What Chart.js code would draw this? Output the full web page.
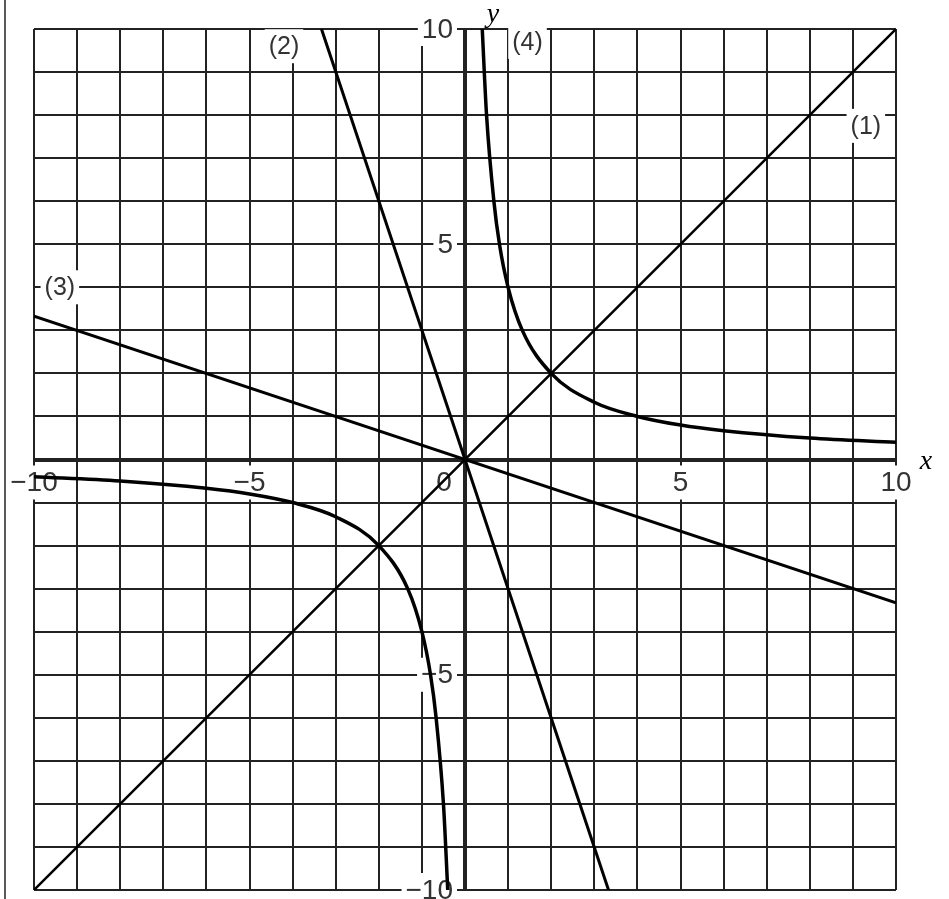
<!DOCTYPE html>
<html>
<head>
<meta charset="utf-8">
<title>Graphs of y = x, y = -3x, y = -x/3, y = 4/x</title>
<script src="https://cdn.jsdelivr.net/npm/chart.js@4.4.1/dist/chart.umd.min.js"></script>
<style>
    html, body { margin: 0; padding: 0; background: #fff; }
    #wrap { width: 949px; height: 899px; position: relative; }
</style>
</head>
<body>
<div id="wrap"><canvas id="graphchart" width="949" height="899"></canvas></div>
<script>
"use strict";

/* values */
var line1X = [-10, 10];
var line1Y = [-10, 10];
var line2X = [-3.33, 3.33];
var line2Y = [10, -10];
var line3X = [-10, 10];
var line3Y = [3.33, -3.33];
var curve4PosX = [0.4, 0.5, 0.67, 0.8, 1, 1.33, 2, 3, 4, 5, 6, 8, 10];
var curve4PosY = [10, 8, 6, 5, 4, 3, 2, 1.33, 1, 0.8, 0.67, 0.5, 0.4];
var curve4NegX = [-10, -8, -6, -5, -4, -3, -2, -1.33, -1, -0.8, -0.67, -0.5, -0.4];
var curve4NegY = [-0.4, -0.5, -0.67, -0.8, -1, -1.33, -2, -3, -4, -5, -6, -8, -10];

var xTickValues = [-10, -5, 0, 5, 10];
var xTickLabels = ['\u221210', '\u22125', '0', '5', '10'];
var yTickValues = [10, 5, -5, -10];
var yTickLabels = ['10', '5', '\u22125', '\u221210'];

var curveNames = ['(1)', '(2)', '(3)', '(4)'];
var curveNameX = [9.3, -4.2, -9.4, 1.45];
var curveNameY = [7.75, 9.6, 4, 9.7];

function toPoints(xs, ys) {
    return xs.map(function (x, i) { return { x: x, y: ys[i] }; });
}

function lineSet(xs, ys, width, smooth) {
    return {
        data: toPoints(xs, ys),
        showLine: true,
        pointRadius: 0,
        borderColor: '#000',
        borderWidth: width,
        fill: false,
        cubicInterpolationMode: smooth ? 'monotone' : 'default',
        tension: 0
    };
}

function whiteLabel(ctx, text, x, y, align) {
    var w = ctx.measureText(text).width;
    var left = align === 'right' ? x - w : x - w / 2;
    ctx.fillStyle = '#fff';
    ctx.fillRect(left - 4, y - 17, w + 8, 34);
    ctx.fillStyle = '#333';
    ctx.textAlign = align;
    ctx.fillText(text, x, y + 1);
}

/* tick labels and curve names sit on white boxes under the curves */
var labelPlugin = {
    id: 'labelPlugin',
    beforeDatasetsDraw: function (chart) {
        var ctx = chart.ctx;
        var sx = chart.scales.x;
        var sy = chart.scales.y;
        var x0 = sx.getPixelForValue(0);
        var y0 = sy.getPixelForValue(0);
        ctx.save();
        ctx.textBaseline = 'middle';
        ctx.font = '28px "Liberation Sans", Arial, sans-serif';
        xTickValues.forEach(function (v, i) {
            var px = sx.getPixelForValue(v);
            if (v === 0) px -= 21;
            whiteLabel(ctx, xTickLabels[i], px, y0 + 23, 'center');
        });
        yTickValues.forEach(function (v, i) {
            whiteLabel(ctx, yTickLabels[i], x0 - 12, sy.getPixelForValue(v), 'right');
        });
        ctx.font = '25px "Liberation Sans", Arial, sans-serif';
        curveNames.forEach(function (t, i) {
            whiteLabel(ctx, t, sx.getPixelForValue(curveNameX[i]), sy.getPixelForValue(curveNameY[i]), 'center');
        });
        ctx.restore();
    },
    afterDraw: function (chart) {
        var ctx = chart.ctx;
        var area = chart.chartArea;
        var x0 = chart.scales.x.getPixelForValue(0);
        var y0 = chart.scales.y.getPixelForValue(0);
        ctx.save();
        ctx.fillStyle = '#000';
        ctx.font = 'italic 28px "Liberation Serif", "DejaVu Serif", serif';
        ctx.textAlign = 'center';
        ctx.textBaseline = 'middle';
        ctx.fillText('y', x0 + 28, area.top - 14);
        ctx.fillText('x', area.right + 30, y0 + 2);
        /* page border on the left */
        ctx.strokeStyle = '#222';
        ctx.lineWidth = 1.5;
        ctx.beginPath();
        ctx.moveTo(5, 0);
        ctx.lineTo(5, chart.height);
        ctx.stroke();
        ctx.restore();
    }
};

document.addEventListener("DOMContentLoaded", function () {
    var graph = document.getElementById('graphchart').getContext('2d');

    var axisGrid = {
        color: '#222',
        lineWidth: function (c) { return c.tick && c.tick.value === 0 ? 4 : 2; },
        drawTicks: false
    };

    var graphConfig = {
        type: 'scatter',
        data: {
            datasets: [
                lineSet(line1X, line1Y, 2.5, false),
                lineSet(line2X, line2Y, 3, false),
                lineSet(line3X, line3Y, 3, false),
                lineSet(curve4PosX, curve4PosY, 3.5, true),
                lineSet(curve4NegX, curve4NegY, 3.5, true)
            ]
        },
        options: {
            animation: false,
            responsive: false,
            maintainAspectRatio: false,
            layout: {
                padding: { left: 34, right: 53, top: 29, bottom: 9 }
            },
            plugins: {
                legend: { display: false },
                tooltip: { enabled: false }
            },
            scales: {
                x: {
                    type: 'linear',
                    min: -10,
                    max: 10,
                    ticks: { stepSize: 1, display: false },
                    grid: axisGrid,
                    border: { display: false }
                },
                y: {
                    type: 'linear',
                    min: -10,
                    max: 10,
                    ticks: { stepSize: 1, display: false },
                    grid: axisGrid,
                    border: { display: false }
                }
            }
        },
        plugins: [labelPlugin]
    };
    var graphChart = new Chart(graph, graphConfig);
});
</script>
</body>
</html>
